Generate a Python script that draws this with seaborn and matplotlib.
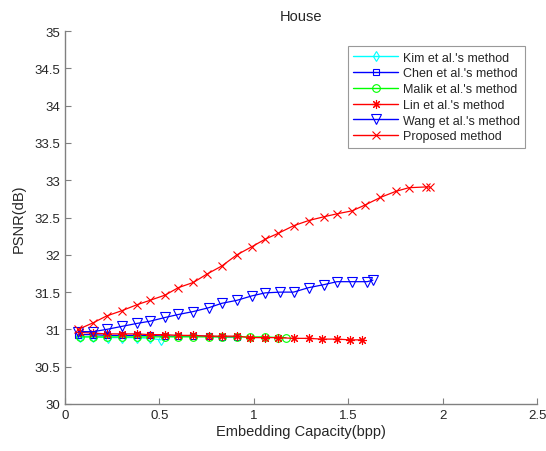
import matplotlib
matplotlib.use("Agg")
import matplotlib.pyplot as plt
import pandas as pd
import seaborn as sns
from matplotlib.ticker import FormatStrFormatter

# values
kim_x = [0.08, 0.15, 0.23, 0.30, 0.38, 0.45, 0.51]
kim_y = [30.90, 30.90, 30.89, 30.89, 30.89, 30.88, 30.86]

chen_x = [0.07, 0.15, 0.22, 0.30, 0.38, 0.45, 0.53, 0.60, 0.68, 0.76, 0.83, 0.91]
chen_y = [30.93, 30.93, 30.92, 30.92, 30.92, 30.92, 30.91, 30.91, 30.91, 30.91, 30.90, 30.90]

malik_x = [0.08, 0.15, 0.22, 0.30, 0.38, 0.45, 0.53, 0.60, 0.68, 0.76, 0.83,
           0.91, 0.98, 1.06, 1.13, 1.17]
malik_y = [30.90, 30.90, 30.90, 30.90, 30.90, 30.90, 30.90, 30.90, 30.90, 30.90,
           30.90, 30.90, 30.90, 30.90, 30.89, 30.89]

lin_x = [0.08, 0.15, 0.22, 0.30, 0.38, 0.45, 0.53, 0.60, 0.68, 0.76, 0.83,
         0.91, 0.98, 1.06, 1.13, 1.21, 1.29, 1.36, 1.44, 1.51, 1.57]
lin_y = [30.96, 30.95, 30.94, 30.94, 30.94, 30.93, 30.93, 30.92, 30.92, 30.91, 30.91,
         30.91, 30.89, 30.89, 30.89, 30.88, 30.88, 30.87, 30.87, 30.86, 30.86]

wang_x = [0.07, 0.15, 0.22, 0.30, 0.38, 0.45, 0.53, 0.60, 0.68, 0.76, 0.83,
          0.91, 0.99, 1.06, 1.14, 1.21, 1.29, 1.37, 1.44, 1.52, 1.60, 1.63]
wang_y = [30.97, 30.97, 31.00, 31.04, 31.08, 31.11, 31.16, 31.20, 31.24, 31.29, 31.35,
          31.39, 31.45, 31.49, 31.50, 31.50, 31.56, 31.60, 31.64, 31.64, 31.64, 31.66]

prop_x = [0.07, 0.15, 0.22, 0.30, 0.38, 0.45, 0.53, 0.60, 0.68, 0.75, 0.83, 0.91,
          0.99, 1.06, 1.13, 1.21, 1.29, 1.37, 1.44, 1.52, 1.59, 1.67, 1.75,
          1.82, 1.91, 1.93]
prop_y = [31.00, 31.09, 31.18, 31.25, 31.33, 31.39, 31.46, 31.56, 31.63, 31.74, 31.85,
          32.00, 32.11, 32.21, 32.29, 32.39, 32.46, 32.51, 32.55, 32.59, 32.67,
          32.77, 32.85, 32.90, 32.91, 32.91]

asterisk = (8, 2, 0)  # MATLAB-style '*' (plus and cross together)
series = [
    ("Kim et al.'s method", kim_x, kim_y, "#00ffff", "d", 5.5),
    ("Chen et al.'s method", chen_x, chen_y, "#0000ff", "s", 5),
    ("Malik et al.'s method", malik_x, malik_y, "#00ff00", "o", 5.5),
    ("Lin et al.'s method", lin_x, lin_y, "#ff0000", asterisk, 6.5),
    ("Wang et al.'s method", wang_x, wang_y, "#0000ff", "v", 6.5),
    ("Proposed method", prop_x, prop_y, "#ff0000", "x", 6),
]

sns.set_style("ticks")
plt.rcParams["font.family"] = ["Liberation Sans", "DejaVu Sans"]

fig = plt.figure(figsize=(5.46, 4.52), dpi=100)
ax = fig.add_axes([0.119, 0.104, 0.865, 0.825])

for name, xs, ys, color, marker, size in series:
    df = pd.DataFrame({"x": xs, "y": ys})
    sns.lineplot(data=df, x="x", y="y", ax=ax, color=color, marker=marker,
                 markersize=size, linewidth=0.9, markerfacecolor="none",
                 markeredgecolor=color, markeredgewidth=0.8,
                 label=name, sort=False)

ax.set_xlim(0, 2.5)
ax.set_ylim(30, 35)
ax.set_xticks([0, 0.5, 1, 1.5, 2, 2.5])
ax.set_yticks([30 + 0.5 * i for i in range(11)])
ax.xaxis.set_major_formatter(FormatStrFormatter("%g"))
ax.yaxis.set_major_formatter(FormatStrFormatter("%g"))
ax.tick_params(direction="in", length=4, width=0.8, color="#808080",
               labelsize=9.5, labelcolor="#262626")
sns.despine(ax=ax, top=True, right=True)
for side in ("left", "bottom"):
    ax.spines[side].set_color("#808080")
    ax.spines[side].set_linewidth(1.0)

ax.set_title("House", fontsize=10.5, color="#262626", pad=8)
ax.set_xlabel("Embedding Capacity(bpp)", fontsize=10.5, color="#262626", labelpad=2)
ax.set_ylabel("PSNR(dB)", fontsize=10.5, color="#262626", labelpad=6)

leg = ax.legend(loc="upper right", bbox_to_anchor=(0.975, 0.96), fontsize=9,
                frameon=True, fancybox=False, borderpad=0.45, labelspacing=0.3,
                handlelength=3.6, handletextpad=0.35, borderaxespad=0)
leg.get_frame().set_edgecolor("#808080")
leg.get_frame().set_linewidth(0.8)
for line in leg.get_lines():
    line.set_linewidth(1.0)

plt.savefig("out.png", dpi=100)
